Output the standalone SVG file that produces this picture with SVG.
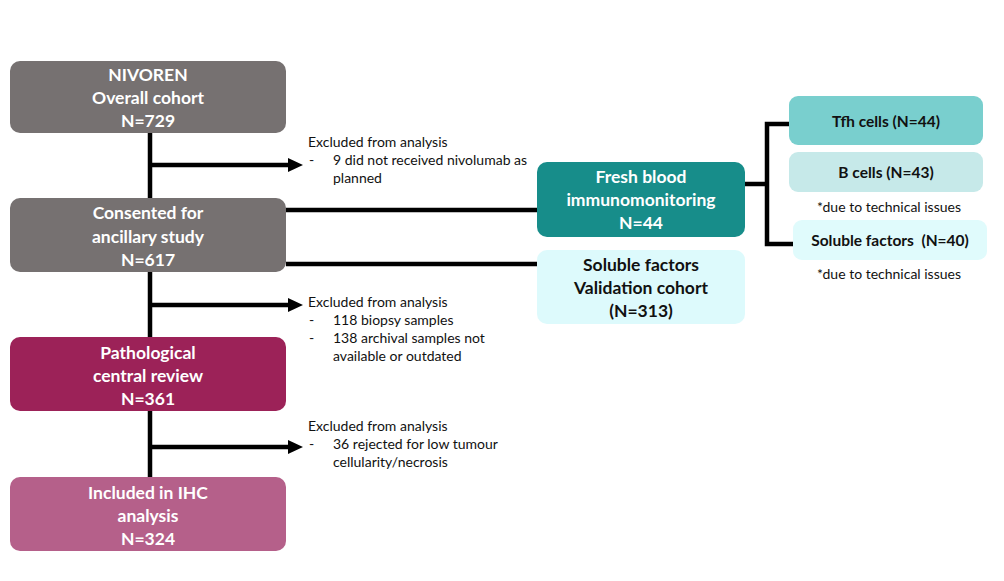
<svg xmlns="http://www.w3.org/2000/svg" width="1004" height="581" viewBox="0 0 1004 581">
<defs>
<style>
.t{font-family:Lato,"Open Sans","Liberation Sans",sans-serif;font-weight:bold;font-size:17.5px;text-anchor:middle}
.s{font-size:15.5px}
.w{fill:#fff}
.k{fill:#111}
.n{font-family:Lato,"Open Sans","Liberation Sans",sans-serif;font-size:14px;fill:#111}
.ln{stroke:#000;stroke-width:4.5;fill:none}
</style>
</defs>
<rect width="1004" height="581" fill="#fff"/>
<g id="connectors">
<line class="ln" x1="150" y1="133" x2="150" y2="478"/>
<line class="ln" x1="150" y1="165" x2="292" y2="165"/>
<path d="M288,158 L303,165 L288,172 z"/>
<line class="ln" x1="150" y1="305" x2="292" y2="305"/>
<path d="M288,298 L303,305 L288,312 z"/>
<line class="ln" x1="150" y1="447" x2="292" y2="447"/>
<path d="M288,440 L303,447 L288,454 z"/>
<line class="ln" x1="286" y1="210" x2="538" y2="210"/>
<line class="ln" x1="286" y1="264" x2="538" y2="264"/>
<line class="ln" x1="745" y1="184" x2="767" y2="184"/>
<path class="ln" d="M790,124 L767,124 L767,244 L793,244"/>
</g>
<g id="nivoren">
<rect x="10" y="61" width="276" height="72" rx="10" fill="#767171"/>
<text class="t w" x="148" y="81">NIVOREN</text>
<text class="t w" x="148" y="104">Overall cohort</text>
<text class="t w" x="148" y="127">N=729</text>
</g>
<g id="consented">
<rect x="10" y="198" width="276" height="74" rx="10" fill="#767171"/>
<text class="t w" x="148" y="219">Consented for</text>
<text class="t w" x="148" y="243">ancillary study</text>
<text class="t w" x="148" y="266">N=617</text>
</g>
<g id="pathological">
<rect x="10" y="337" width="276" height="74" rx="10" fill="#9C2258"/>
<text class="t w" x="148" y="359">Pathological</text>
<text class="t w" x="148" y="382">central review</text>
<text class="t w" x="148" y="405">N=361</text>
</g>
<g id="included">
<rect x="10" y="477" width="276" height="74" rx="10" fill="#B5608A"/>
<text class="t w" x="148" y="499">Included in IHC</text>
<text class="t w" x="148" y="522">analysis</text>
<text class="t w" x="148" y="545">N=324</text>
</g>
<g id="excl1">
<text class="n" x="308" y="147">Excluded from analysis</text>
<text class="n" x="309" y="165">-</text>
<text class="n" x="333" y="165">9 did not received nivolumab as</text>
<text class="n" x="333" y="183">planned</text>
</g>
<g id="excl2">
<text class="n" x="308" y="307">Excluded from analysis</text>
<text class="n" x="309" y="325">-</text>
<text class="n" x="333" y="325">118 biopsy samples</text>
<text class="n" x="309" y="343">-</text>
<text class="n" x="333" y="343">138 archival samples not</text>
<text class="n" x="333" y="361">available or outdated</text>
</g>
<g id="excl3">
<text class="n" x="308" y="431">Excluded from analysis</text>
<text class="n" x="309" y="449">-</text>
<text class="n" x="333" y="449">36 rejected for low tumour</text>
<text class="n" x="333" y="467">cellularity/necrosis</text>
</g>
<g id="freshblood">
<rect x="537" y="162" width="208" height="75" rx="10" fill="#178D8A"/>
<text class="t w" x="641" y="183">Fresh blood</text>
<text class="t w" x="641" y="206">immunomonitoring</text>
<text class="t w" x="641" y="229">N=44</text>
</g>
<g id="validation">
<rect x="537" y="250" width="208" height="74" rx="10" fill="#DDFAFC"/>
<text class="t k" x="641" y="271">Soluble factors</text>
<text class="t k" x="641" y="294">Validation cohort</text>
<text class="t k" x="641" y="317">(N=313)</text>
</g>
<g id="tfh">
<rect x="789" y="96" width="194" height="49" rx="9" fill="#79CFCE"/>
<text class="t s k" x="886" y="127">Tfh cells (N=44)</text>
</g>
<g id="bcells">
<rect x="789" y="152" width="194" height="40" rx="9" fill="#C6E9E9"/>
<text class="t s k" x="886" y="178">B cells (N=43)</text>
<text class="n" x="889" y="212" text-anchor="middle">*due to technical issues</text>
</g>
<g id="soluble">
<rect x="793" y="220" width="194" height="40" rx="9" fill="#E0FBFC"/>
<text class="t s k" x="890" y="246">Soluble factors &#160;(N=40)</text>
<text class="n" x="889" y="279" text-anchor="middle">*due to technical issues</text>
</g>
</svg>
